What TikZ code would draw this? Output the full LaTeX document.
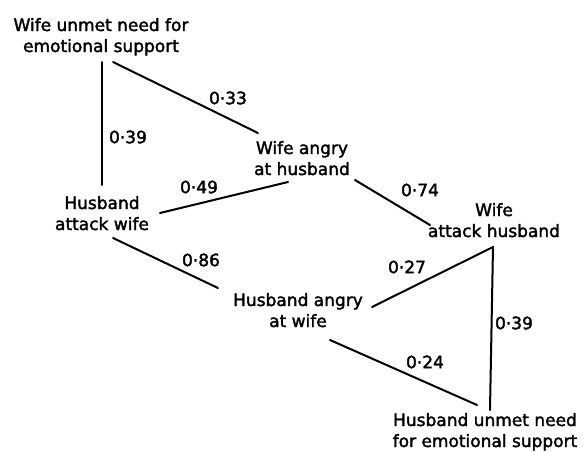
\documentclass[tikz,border=0pt]{standalone}
\usepackage{fontspec}
\setmainfont{DejaVu Sans}[BoldFont={DejaVu Sans}, BoldFeatures={FakeBold=2}]
\begin{document}
\begin{tikzpicture}[x=1pt,y=-1pt,
  lbl/.style={font=\fontsize{17}{21}\selectfont\bfseries, align=center, anchor=base, inner sep=0pt},
  num/.style={font=\fontsize{17}{21}\selectfont\bfseries, anchor=center, inner sep=0pt},
  edge/.style={line width=2pt, line cap=round}]
\useasboundingbox (0,0) rectangle (587,451);
% concept nodes (anchor = baseline of last line)
\node[lbl] (A) at (101,52) {Wife unmet need for\\emotional support};
\node[lbl] (B) at (302,175) {Wife angry\\at husband};
\node[lbl] (C) at (102,230) {Husband\\attack wife};
\node[lbl] (D) at (494,237) {Wife\\attack husband};
\node[lbl] (E) at (298,327) {Husband angry\\at wife};
\node[lbl] (F) at (485,447) {Husband unmet need\\for emotional support};
% connector ends
\coordinate (a1) at (102,62);
\coordinate (a2) at (113,62);
\coordinate (c1) at (102,185);
\coordinate (c2) at (160,213);
\coordinate (c3) at (113,238);
\coordinate (b1) at (258,133);
\coordinate (b2) at (288,182);
\coordinate (b3) at (355,180);
\coordinate (d1) at (430,225);
\coordinate (d2) at (493,247);
\coordinate (e1) at (218,288);
\coordinate (e2) at (372,307);
\coordinate (e3) at (330,340);
\coordinate (f1) at (477,405);
\coordinate (f2) at (490,410);
% connectors
\draw[edge] (a1) -- (c1);
\draw[edge] (a2) -- (b1);
\draw[edge] (c2) -- (b2);
\draw[edge] (b3) -- (d1);
\draw[edge] (c3) -- (e1);
\draw[edge] (e2) -- (d2);
\draw[edge] (d2) -- (f2);
\draw[edge] (e3) -- (f1);
% weights
\node[num] (w1) at (228,98) {0·33};
\node[num] (w2) at (128,137) {0·39};
\node[num] (w3) at (199,187) {0·49};
\node[num] (w4) at (420,190) {0·74};
\node[num] (w5) at (201,260) {0·86};
\node[num] (w6) at (407,267) {0·27};
\node[num] (w7) at (514,323) {0·39};
\node[num] (w8) at (425,362) {0·24};
\end{tikzpicture}
\end{document}
